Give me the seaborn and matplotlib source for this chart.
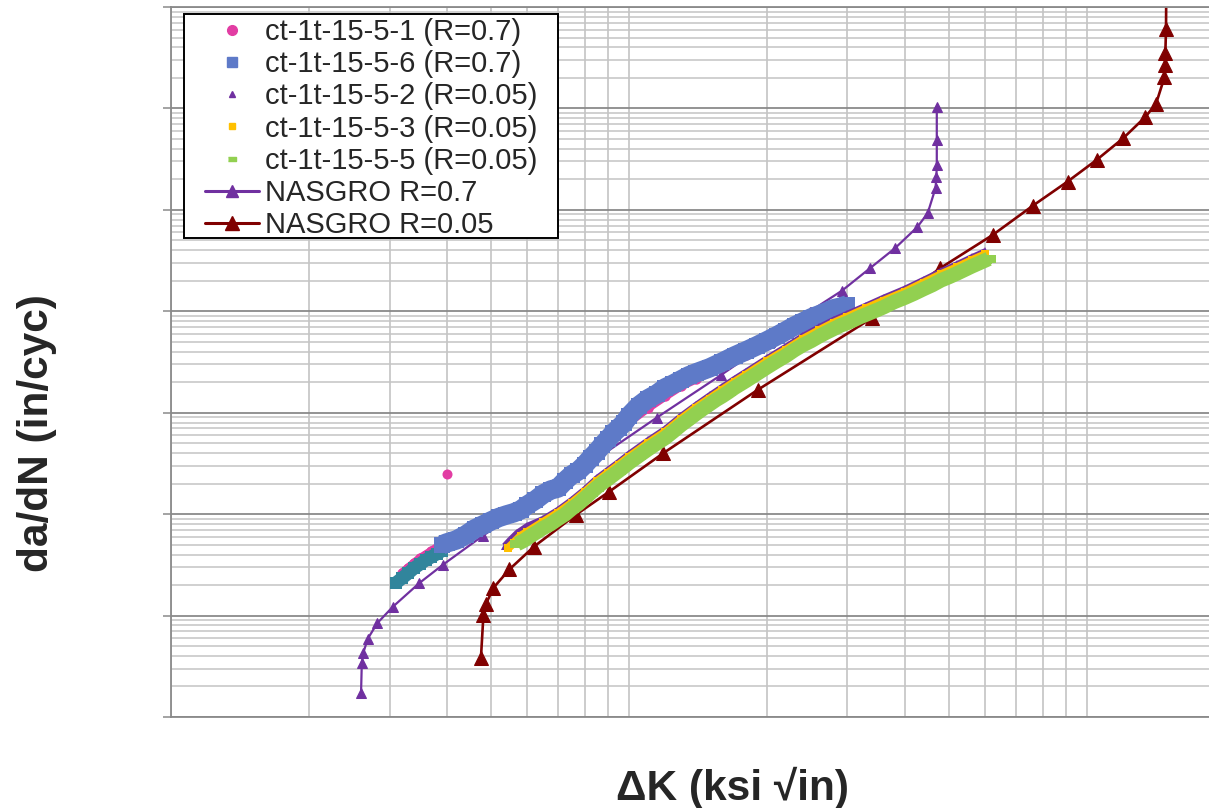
import matplotlib
matplotlib.use("Agg")
import matplotlib.pyplot as plt
import seaborn as sns
from matplotlib.lines import Line2D
from matplotlib.patches import Rectangle
from matplotlib.ticker import LogLocator, NullFormatter

# ct-1t-15-5-1 (R=0.7) - band mostly hidden under 5-6, plus one outlier
k1 = [3.2, 3.3, 3.4, 3.5, 3.6, 3.7, 3.8, 3.9, 4.0, 4.4, 4.8, 5.2, 5.6, 6.0, 6.5, 7.0, 7.5, 8.0, 8.5,
      9.0, 9.5, 10, 11, 12, 13, 14, 16, 18, 20, 22, 24, 26, 28]
v1 = [2.63e-8, 2.95e-8, 3.30e-8, 3.66e-8, 3.96e-8, 4.29e-8, 4.64e-8, 5.08e-8, 5.32e-8, 6.38e-8,
      8.01e-8, 9.38e-8, 1.10e-7, 1.29e-7, 1.58e-7, 1.85e-7, 2.38e-7, 2.99e-7, 3.92e-7, 5.15e-7,
      6.47e-7, 8.12e-7, 1.12e-6, 1.46e-6, 1.84e-6, 2.15e-6, 2.89e-6, 3.72e-6, 4.66e-6, 5.85e-6,
      7.18e-6, 8.41e-6, 9.64e-6]
k1_out = [4.0]
v1_out = [2.49e-7]

# teal segment at the start of the R=0.7 data (no legend entry)
k_teal = [3.1, 3.2, 3.3, 3.4, 3.5, 3.6, 3.7, 3.8, 3.9]
v_teal = [2.10e-8, 2.35e-8, 2.63e-8, 2.95e-8, 3.23e-8, 3.53e-8, 3.78e-8, 4.05e-8, 4.34e-8]

# ct-1t-15-5-6 (R=0.7)
k6 = [3.9, 4.0, 4.2, 4.4, 4.6, 4.8, 5.0, 5.2, 5.4, 5.6, 5.8, 6.0, 6.25, 6.5, 6.75, 7.0, 7.25, 7.5,
      7.75, 8.0, 8.25, 8.5, 8.75, 9.0, 9.25, 9.5, 9.75, 10, 10.5, 11, 11.5, 12, 12.5, 13, 13.5, 14,
      15, 16, 17, 18, 19, 20, 21, 22, 23, 24, 25, 26, 27, 28, 29, 30]
v6 = [4.97e-8, 5.20e-8, 5.57e-8, 6.23e-8, 7.14e-8, 7.83e-8, 8.57e-8, 9.28e-8, 9.82e-8, 1.03e-7,
      1.10e-7, 1.23e-7, 1.38e-7, 1.58e-7, 1.73e-7, 1.81e-7, 2.13e-7, 2.44e-7, 2.67e-7, 3.06e-7,
      3.58e-7, 4.11e-7, 4.81e-7, 5.51e-7, 6.32e-7, 7.08e-7, 7.93e-7, 9.30e-7, 1.17e-6, 1.37e-6,
      1.53e-6, 1.76e-6, 1.92e-6, 2.11e-6, 2.31e-6, 2.47e-6, 2.77e-6, 3.17e-6, 3.63e-6, 4.07e-6,
      4.56e-6, 5.11e-6, 5.72e-6, 6.41e-6, 7.18e-6, 7.86e-6, 8.61e-6, 9.22e-6, 9.86e-6, 1.06e-5,
      1.10e-5, 1.16e-5]

# ct-1t-15-5-2 (R=0.05)
k2 = [5.35, 5.5, 5.7, 6.0, 6.5, 7.0, 7.5, 8.0, 8.5, 9.0, 9.5, 10, 11, 12, 13, 14, 15, 16, 17, 18,
      20, 22, 24, 26, 28, 30, 33, 36, 40, 44, 48, 52, 56, 60]
v2 = [4.86e-8, 5.57e-8, 6.53e-8, 7.65e-8, 8.97e-8, 1.10e-7, 1.38e-7, 1.75e-7, 2.25e-7, 2.73e-7,
      3.27e-7, 3.92e-7, 5.33e-7, 6.92e-7, 9.30e-7, 1.19e-6, 1.48e-6, 1.80e-6, 2.15e-6, 2.53e-6,
      3.43e-6, 4.46e-6, 5.72e-6, 6.94e-6, 8.23e-6, 9.43e-6, 1.14e-5, 1.36e-5, 1.66e-5, 2.04e-5,
      2.47e-5, 2.90e-5, 3.40e-5, 3.90e-5]

# ct-1t-15-5-3 (R=0.05)
k3 = [5.45, 5.6, 5.8, 6.0, 6.5, 7.0, 7.5, 8.0, 8.5, 9.0, 9.5, 10, 11, 12, 13, 14, 15, 16, 17, 18,
      20, 22, 24, 26, 28, 30, 33, 36, 40, 44, 48, 52, 56, 60]
v3 = [4.64e-8, 5.20e-8, 6.10e-8, 6.68e-8, 8.38e-8, 1.03e-7, 1.29e-7, 1.64e-7, 2.10e-7, 2.55e-7,
      3.06e-7, 3.66e-7, 4.98e-7, 6.47e-7, 8.69e-7, 1.12e-6, 1.38e-6, 1.68e-6, 2.01e-6, 2.36e-6,
      3.21e-6, 4.16e-6, 5.34e-6, 6.48e-6, 7.69e-6, 8.81e-6, 1.07e-5, 1.27e-5, 1.55e-5, 1.91e-5,
      2.31e-5, 2.71e-5, 3.18e-5, 3.64e-5]

# ct-1t-15-5-5 (R=0.05)
k5 = [5.7, 5.9, 6.1, 6.3, 6.5, 6.75, 7.0, 7.25, 7.5, 7.75, 8.0, 8.25, 8.5, 8.75, 9.0, 9.25, 9.5,
      9.75, 10, 10.5, 11, 11.5, 12, 12.5, 13, 13.5, 14, 14.5, 15, 15.5, 16, 16.5, 17, 18, 19, 20,
      21, 22, 23, 24, 25, 26, 27, 28, 29, 30, 31, 32, 33, 34, 35, 36, 37, 38, 39, 40, 42, 44, 46,
      48, 50, 52, 54, 56, 58, 60, 61]
v5 = [5.08e-8, 5.50e-8, 6.10e-8, 6.68e-8, 7.31e-8, 8.01e-8, 8.97e-8, 9.93e-8, 1.13e-7, 1.26e-7,
      1.43e-7, 1.62e-7, 1.83e-7, 2.03e-7, 2.22e-7, 2.44e-7, 2.67e-7, 2.92e-7, 3.20e-7, 3.75e-7,
      4.35e-7, 4.98e-7, 5.64e-7, 6.54e-7, 7.58e-7, 8.59e-7, 9.73e-7, 1.09e-6, 1.21e-6, 1.34e-6,
      1.46e-6, 1.60e-6, 1.76e-6, 2.06e-6, 2.41e-6, 2.80e-6, 3.21e-6, 3.63e-6, 4.16e-6, 4.66e-6,
      5.11e-6, 5.66e-6, 6.19e-6, 6.71e-6, 7.26e-6, 7.69e-6, 8.23e-6, 8.81e-6, 9.32e-6, 9.86e-6,
      1.04e-5, 1.10e-5, 1.17e-5, 1.24e-5, 1.30e-5, 1.36e-5, 1.50e-5, 1.66e-5, 1.82e-5, 2.02e-5,
      2.18e-5, 2.36e-5, 2.56e-5, 2.77e-5, 2.97e-5, 3.18e-5, 3.29e-5]

# NASGRO curves
kn7 = [2.60, 2.61, 2.63, 2.69, 2.82, 3.05, 3.48, 3.92, 4.79, 7.1, 11.5, 15.9, 20.3, 24.8, 29.2,
       33.6, 38.1, 42.6, 44.9, 46.7, 46.9, 47.0, 47.0, 47.0]
vn7 = [1.74e-9, 3.43e-9, 4.31e-9, 5.92e-9, 8.40e-9, 1.22e-8, 2.08e-8, 3.16e-8, 6.10e-8, 2.02e-7,
       8.95e-7, 2.36e-6, 5.03e-6, 9.93e-6, 1.60e-5, 2.66e-5, 4.19e-5, 6.75e-5, 9.28e-5, 1.64e-4,
       2.13e-4, 2.74e-4, 4.90e-4, 1.04e-3]
kn05 = [4.75, 4.81, 4.87, 5.05, 5.48, 6.20, 7.65, 9.06, 11.88, 19.1, 33.9, 47.8, 62.3, 76.2, 90.7,
        105, 120, 134, 141.5, 147.6, 148.0, 148.3, 148.8, 149.0]
vn05 = [3.79e-9, 1.01e-8, 1.29e-8, 1.86e-8, 2.85e-8, 4.78e-8, 9.82e-8, 1.67e-7, 3.99e-7, 1.68e-6,
        8.55e-6, 2.66e-5, 5.67e-5, 1.10e-4, 1.90e-4, 3.11e-4, 5.09e-4, 8.21e-4, 1.11e-3, 2.02e-3,
        2.65e-3, 3.51e-3, 6.05e-3, 1.5e-2]

labels = ['ct-1t-15-5-1 (R=0.7)', 'ct-1t-15-5-6 (R=0.7)', 'ct-1t-15-5-2 (R=0.05)',
          'ct-1t-15-5-3 (R=0.05)', 'ct-1t-15-5-5 (R=0.05)', 'NASGRO R=0.7', 'NASGRO R=0.05']

pink = '#E23DA3'
blue = '#5E7AC8'
teal = '#31859C'
purple = '#7030A0'
orange = '#FFC000'
green = '#92D050'
dred = '#800000'
dash = [(-1, -0.55), (1, -0.55), (1, 0.55), (-1, 0.55)]

sns.set_theme(style="white")
plt.rcParams['font.family'] = ['Liberation Sans', 'DejaVu Sans']

fig = plt.figure(figsize=(12.09, 8.08), dpi=100)
ax = fig.add_axes([171 / 1209, 91 / 808, 1038 / 1209, 710 / 808])
ax.set_xscale('log')
ax.set_yscale('log')

# NASGRO curves under the test data
sns.lineplot(x=kn7, y=vn7, sort=False, estimator=None, color=purple, lw=1.6, marker='^',
             markersize=7.5, markeredgecolor=purple, ax=ax, zorder=2)
sns.lineplot(x=kn05, y=vn05, sort=False, estimator=None, color=dred, lw=1.9, marker='^',
             markersize=9.5, markeredgecolor=dred, ax=ax, zorder=2)


def band(k, v, color, lw, marker, ms, z):
    # densely packed test points drawn as a thick trace
    sns.lineplot(x=k, y=v, sort=False, estimator=None, color=color, lw=lw, marker=marker,
                 markersize=ms, markeredgewidth=0, solid_capstyle='butt', ax=ax, zorder=z)


band(k1, v1, pink, 6.5, 'o', 7.5, 3)
sns.scatterplot(x=k1_out, y=v1_out, marker='o', s=52, color=pink, linewidth=0, ax=ax, zorder=3,
                legend=False)
band(k_teal, v_teal, teal, 9.5, 's', 9, 3.5)
band(k6, v6, blue, 14, 's', 11, 4)
band(k2, v2, purple, 4.5, '^', 6, 4.1)
band(k3, v3, orange, 6, 's', 6, 4.2)
band(k5, v5, green, 10.5, dash, 10, 4.3)

ax.set_xlim(1, 184.7)
ax.set_ylim(1e-9, 1e-2)
ax.set_xlabel('')
ax.set_ylabel('')

ax.xaxis.set_major_locator(LogLocator(base=10, numticks=20))
ax.xaxis.set_minor_locator(LogLocator(base=10, subs=range(2, 10), numticks=100))
ax.yaxis.set_major_locator(LogLocator(base=10, numticks=20))
ax.yaxis.set_minor_locator(LogLocator(base=10, subs=range(2, 10), numticks=100))
ax.xaxis.set_minor_formatter(NullFormatter())
ax.yaxis.set_minor_formatter(NullFormatter())

ax.set_axisbelow(True)
ax.grid(True, which='major', axis='y', color='#8A8A8A', lw=1.3)
ax.grid(True, which='minor', axis='y', color='#C4C4C4', lw=1.1)
ax.grid(True, which='both', axis='x', color='#BEBEBE', lw=1.1)

ax.tick_params(axis='y', which='major', direction='out', length=5.8, width=1.1, color='#8A8A8A',
               labelleft=False, left=True)
ax.tick_params(axis='y', which='minor', length=0)
ax.tick_params(axis='x', which='both', length=0, labelbottom=False)
for side in ['left', 'bottom', 'top']:
    ax.spines[side].set_color('#8A8A8A')
    ax.spines[side].set_linewidth(1.3)
ax.spines['right'].set_visible(False)

# legend box (frame drawn separately so the padding can differ by side)
ax.add_patch(Rectangle((184 / 1209, 1 - 238 / 808), 374 / 1209, 224 / 808,
                       transform=fig.transFigure, facecolor='white', edgecolor='black', lw=1.4,
                       clip_on=False, zorder=4.9))
handles = [
    Line2D([], [], ls='none', marker='o', ms=7, color=pink, mec=pink),
    Line2D([], [], ls='none', marker='s', ms=7, color=blue, mec=blue),
    Line2D([], [], ls='none', marker='^', ms=4.5, color=purple, mec=purple),
    Line2D([], [], ls='none', marker='s', ms=4.5, color=orange, mec=orange),
    Line2D([], [], ls='none', marker=dash, ms=6, color=green, mec=green),
    Line2D([], [], color=purple, lw=2.2, marker='^', ms=8, mec=purple),
    Line2D([], [], color=dred, lw=2.2, marker='^', ms=10, mec=dred),
]
leg = ax.legend(handles, labels, loc='upper left', bbox_to_anchor=(205 / 1209, 1 - 18 / 808),
                bbox_transform=fig.transFigure, borderaxespad=0, borderpad=0, frameon=False,
                fontsize=21, labelspacing=0.145, handlelength=1.85, handletextpad=0.2)

fig.text(37 / 1209, 1 - 433 / 808, 'da/dN (in/cyc)', rotation=90, ha='center', va='center',
         fontsize=30.5, fontweight='bold')
fig.text(732 / 1209, 1 - 788 / 808, '\u0394K (ksi \u221ain)', ha='center', va='center',
         fontsize=30.5, fontweight='bold')

fig.savefig('out.png', dpi=100)
